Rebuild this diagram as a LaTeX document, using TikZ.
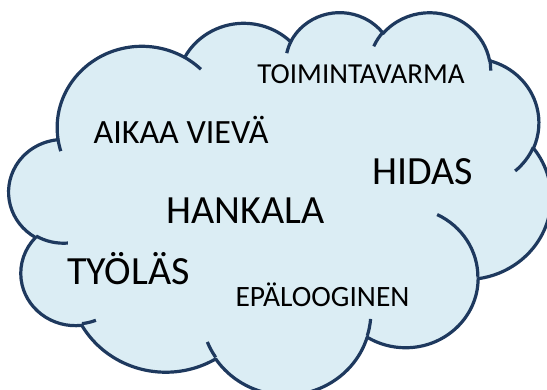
\documentclass[tikz,border=0pt]{standalone}
\usepackage{fontspec}
\setmainfont{Carlito}
\definecolor{cloudfill}{HTML}{DBEDF4}
\definecolor{cloudline}{HTML}{1E395E}

% Elliptic arc given as in DrawingML (radii in path units, angles in degrees
% measured visually with the y axis pointing down). Converts to the parametric
% angles TikZ uses, with the y axis pointing up.
\newcommand{\cloudcalc}[4]{%
  \pgfmathsetmacro{\cloudVa}{0-(#3)}%
  \pgfmathsetmacro{\cloudVb}{0-(#3)-(#4)}%
  \pgfmathsetmacro{\cloudTa}{atan2(sin(\cloudVa)*#1,cos(\cloudVa)*#2)}%
  \pgfmathsetmacro{\cloudTb}{atan2(sin(\cloudVb)*#1,cos(\cloudVb)*#2)}%
  \pgfmathsetmacro{\cloudTa}{(\cloudTa)+360*round(((\cloudVa)-(\cloudTa))/360)}%
  \pgfmathsetmacro{\cloudTb}{(\cloudTb)+360*round(((\cloudVb)-(\cloudTb))/360)}%
  \pgfmathsetmacro{\cloudRx}{#1*0.012545}%
  \pgfmathsetmacro{\cloudRy}{#2*0.00885}%
  \xdef\cloudA{\cloudTa}\xdef\cloudB{\cloudTb}%
  \xdef\cloudRX{\cloudRx}\xdef\cloudRY{\cloudRy}%
}
\newcommand{\carc}[4]{\pgfextra{\cloudcalc{#1}{#2}{#3}{#4}} arc[cloud arc]}

\tikzset{
  cloud arc/.style={start angle=\cloudA, end angle=\cloudB,
    x radius=\cloudRX pt, y radius=\cloudRY pt},
  cloudbody/.style={fill=cloudfill, draw=cloudline, line width=3.2pt, line join=round},
  cloudhook/.style={draw=cloudline, line width=3.2pt},
  word/.style={anchor=base, inner sep=0pt, text=black},
}

\begin{document}
\begin{tikzpicture}
  \clip (0pt,0pt) rectangle (547pt,-390pt);
  \fill[white] (0pt,0pt) rectangle (547pt,-390pt);

  \begin{scope}[shift={(9pt,-11.4pt)}, x=0.12545pt, y=-0.0885pt]
    % outline of the cloud
    \path[cloudbody] (390,1437)
      \carc{6753}{9190}{-190.487483}{123.780533}
      \carc{5333}{7267}{-144.102383}{89.945233}
      \carc{4365}{5945}{-145.807917}{99.723017}
      \carc{4857}{6595}{-130.986067}{117.241733}
      \carc{5333}{7273}{-78.708883}{109.026917}
      \carc{6775}{9220}{-46.26725}{130.269}
      \carc{5785}{7867}{0.625017}{114.033333}
      \carc{6752}{9215}{22.4516}{115.17255}
      \carc{7720}{10543}{66.242633}{75.711017}
      \carc{4360}{5918}{-274.942083}{146.735567}
      \carc{4345}{5945}{-246.8285}{152.51885}
      -- cycle;
    % inner curls between the puffs
    \path[cloudhook] (469.3,2617.7) \carc{4345}{5945}{86.742}{26.4295};
    \path[cloudhook] (692.8,3489.9) \carc{4360}{5918}{73.610467}{11.447467};
    \path[cloudhook] (1647.8,3909.0) \carc{6752}{9215}{137.62415}{14.0811};
    \path[cloudhook] (2882.7,3475.1) \carc{6752}{9215}{6.453267}{15.99835};
    \path[cloudhook] (3412.9,2295.4) \carc{5785}{7867}{-70.29235}{70.917367};
    \path[cloudhook] (4179.8,1535.4) \carc{5333}{7273}{30.318033}{27.7515};
    \path[cloudhook] (3832.4,542.6) \carc{4857}{6595}{-13.744333}{14.8589};
    \path[cloudhook] (2907.8,395.2) \carc{4857}{6595}{-149.18145}{18.195367};
    \path[cloudhook] (2214.1,472.0) \carc{4365}{5945}{-163.494267}{17.68635};
    \path[cloudhook] (1400.0,519.2) \carc{6753}{9190}{-66.70695}{12.31935};
    \path[cloudhook] (412.7,1578.9) \carc{6753}{9190}{157.65435}{11.858167};
  \end{scope}

  % words
  \node[word, font=\fontsize{29pt}{34pt}\selectfont] (toimintavarma) at (361pt,-84pt) {TOIMINTAVARMA};
  \node[word, font=\fontsize{34pt}{40pt}\selectfont] (aikaavieva) at (181pt,-144pt) {AIKAA VIEVÄ};
  \node[word, font=\fontsize{40pt}{48pt}\selectfont] (hidas) at (423pt,-185pt) {HIDAS};
  \node[word, font=\fontsize{40pt}{48pt}\selectfont] (hankala) at (245.5pt,-223.3pt) {HANKALA};
  \node[word, font=\fontsize{40pt}{48pt}\selectfont] (tyolas) at (128.3pt,-284.3pt) {TYÖLÄS};
  \node[word, font=\fontsize{29.5pt}{35pt}\selectfont] (epalooginen) at (322.5pt,-306.7pt) {EPÄLOOGINEN};
\end{tikzpicture}
\end{document}
